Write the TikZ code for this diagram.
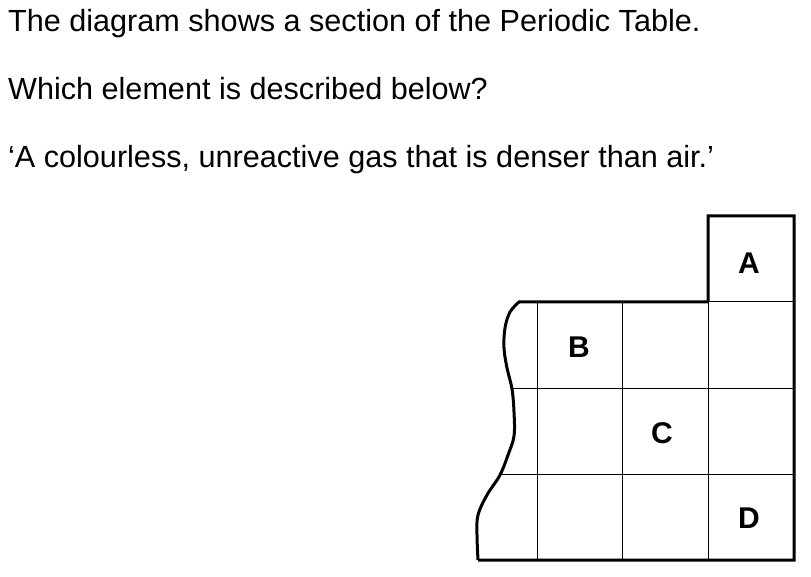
\documentclass[tikz,border=0pt]{standalone}
\usepackage{fontspec}
\setmainfont{Liberation Sans}
\begin{document}
\begin{tikzpicture}[x=1pt,y=-1pt,
  qtext/.style={anchor=base west,inner sep=0pt,font=\fontsize{30.6}{36}\selectfont},
  cellname/.style={inner sep=0pt,font=\bfseries\fontsize{30}{36}\selectfont},
  thick outline/.style={line width=3pt,line join=miter},
  grid line/.style={line width=1pt}]
\useasboundingbox (0,0) rectangle (811,577);
\node[qtext] (t1) at (8,32) {The diagram shows a section of the Periodic Table.};
\node[qtext] (t2) at (8,100) {Which element is described below?};
\node[qtext] (t3) at (8,168) {‘A colourless, unreactive gas that is denser than air.’};
% grid lines
\draw[grid line] (512,388) -- (794,388);
\draw[grid line] (500,474) -- (794,474);
\draw[grid line] (708,302) -- (794,302);
\draw[grid line] (537,302) -- (537,560);
\draw[grid line] (622,302) -- (622,560);
\draw[grid line] (708,302) -- (708,560);
% outline
\draw[thick outline] (708,302) -- (708,216) -- (794,216) -- (794,560) -- (478,560)
  plot[smooth,tension=0.6] coordinates {(478,560) (477,535) (478,515) (487,495) (500,475) (508,455) (514,436) (514,412) (512,389) (507,368) (504,348) (505,328) (510,312) (519,302)}
  -- (708,302);
\node[cellname] (A) at (749,263) {A};
\node[cellname] (B) at (579,347) {B};
\node[cellname] (C) at (662,433) {C};
\node[cellname] (D) at (749,518) {D};
\end{tikzpicture}
\end{document}
